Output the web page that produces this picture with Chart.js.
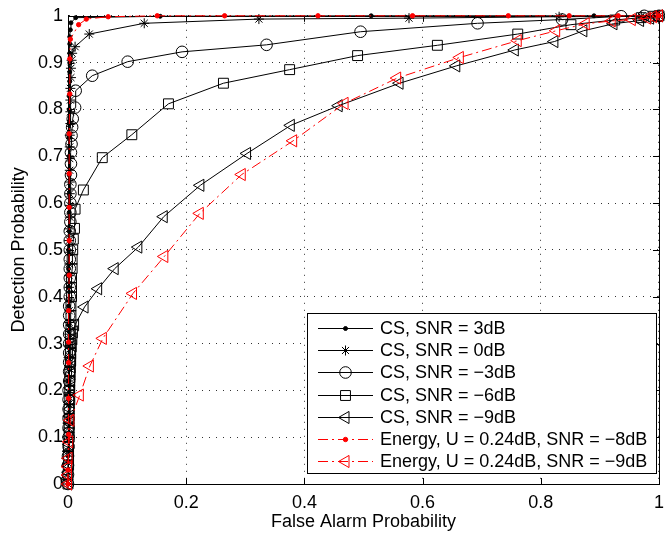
<!DOCTYPE html>
<html><head><meta charset="utf-8">
<script src="https://cdn.jsdelivr.net/npm/chart.js@4/dist/chart.umd.min.js"></script>
<style>
html,body{margin:0;padding:0;overflow:hidden;background:#fff;width:665px;height:536px}
#wrap{position:absolute;left:0;top:0;width:672px;height:536px}
canvas{display:block}
</style>
</head><body><div id="wrap"><canvas id="c" width="672" height="536"></canvas></div>
<script>
// ---- data ----
const xTicks = [0, 0.2, 0.4, 0.6, 0.8, 1];
const yTicks = [0, 0.1, 0.2, 0.3, 0.4, 0.5, 0.6, 0.7, 0.8, 0.9, 1];
const seriesLabels = [
  'CS, SNR = 3dB', 'CS, SNR = 0dB', 'CS, SNR = \u22123dB', 'CS, SNR = \u22126dB',
  'CS, SNR = \u22129dB', 'Energy, U = 0.24dB, SNR = \u22128dB', 'Energy, U = 0.24dB, SNR = \u22129dB'
];
const xLabel = 'False Alarm Probability';
const yLabel = 'Detection Probability';

// [false alarm, detection]
const cs3dB = [[0,0],[0,0.03],[0,0.06],[0,0.1],[0,0.14],[0.001,0.18],[0.001,0.22],[0.001,0.26],[0.001,0.3],[0.001,0.34],[0.001,0.38],[0.001,0.42],[0.001,0.46],[0.001,0.5],[0.002,0.54],[0.002,0.58],[0.002,0.62],[0.002,0.66],[0.002,0.7],[0.002,0.74],[0.002,0.77],[0.002,0.8],[0.002,0.83],[0.003,0.86],[0.003,0.88],[0.003,0.9],[0.003,0.92],[0.003,0.94],[0.003,0.955],[0.004,0.97],[0.005,0.985],[0.013,0.996],[0.156,0.999],[0.513,1],[0.89,1],[1,1]];
const cs0dB = [[0,0],[0,0.02],[0,0.045],[0,0.07],[0.001,0.095],[0.001,0.12],[0.001,0.145],[0.001,0.17],[0.001,0.195],[0.001,0.22],[0.001,0.245],[0.001,0.27],[0.001,0.295],[0.002,0.32],[0.002,0.345],[0.002,0.37],[0.002,0.395],[0.002,0.42],[0.002,0.445],[0.002,0.47],[0.002,0.495],[0.002,0.52],[0.002,0.545],[0.003,0.57],[0.003,0.595],[0.003,0.62],[0.003,0.645],[0.003,0.67],[0.003,0.695],[0.003,0.72],[0.003,0.745],[0.004,0.77],[0.004,0.795],[0.004,0.82],[0.004,0.845],[0.005,0.868],[0.005,0.888],[0.006,0.905],[0.007,0.92],[0.012,0.934],[0.036,0.961],[0.129,0.984],[0.323,0.993],[0.577,0.995],[0.831,0.998],[0.97,0.999],[1,1]];
const csM3dB = [[0,0],[0,0.02],[0,0.04],[0,0.06],[0.001,0.08],[0.001,0.1],[0.001,0.12],[0.001,0.14],[0.001,0.16],[0.001,0.18],[0.001,0.2],[0.002,0.22],[0.002,0.24],[0.002,0.26],[0.002,0.28],[0.002,0.3],[0.002,0.32],[0.002,0.34],[0.002,0.36],[0.002,0.38],[0.003,0.4],[0.003,0.42],[0.003,0.44],[0.003,0.46],[0.003,0.48],[0.003,0.5],[0.003,0.52],[0.003,0.54],[0.004,0.56],[0.004,0.58],[0.004,0.6],[0.004,0.62],[0.004,0.64],[0.005,0.66],[0.005,0.684],[0.005,0.708],[0.006,0.726],[0.006,0.744],[0.007,0.762],[0.008,0.78],[0.012,0.804],[0.013,0.84],[0.041,0.872],[0.101,0.902],[0.193,0.923],[0.336,0.938],[0.495,0.966],[0.693,0.984],[0.836,0.992],[0.936,0.999],[0.975,1],[1,1]];
const csM6dB = [[0,0],[0,0.02],[0.001,0.04],[0.001,0.06],[0.001,0.08],[0.002,0.1],[0.002,0.12],[0.002,0.14],[0.002,0.16],[0.003,0.18],[0.003,0.2],[0.003,0.22],[0.003,0.24],[0.004,0.26],[0.004,0.28],[0.004,0.3],[0.004,0.32],[0.005,0.34],[0.005,0.36],[0.005,0.38],[0.006,0.4],[0.006,0.42],[0.006,0.44],[0.007,0.46],[0.007,0.48],[0.008,0.5],[0.009,0.523],[0.011,0.546],[0.012,0.587],[0.026,0.628],[0.058,0.697],[0.108,0.746],[0.17,0.812],[0.263,0.856],[0.375,0.885],[0.49,0.915],[0.625,0.937],[0.761,0.961],[0.851,0.981],[0.925,0.991],[0.97,0.996],[0.99,0.999],[1,1]];
const csM9dB = [[0,0],[0,0.012],[0.001,0.025],[0.001,0.04],[0.001,0.055],[0.002,0.07],[0.002,0.085],[0.002,0.1],[0.003,0.115],[0.003,0.13],[0.003,0.145],[0.004,0.16],[0.004,0.175],[0.004,0.19],[0.005,0.205],[0.005,0.22],[0.006,0.235],[0.006,0.25],[0.007,0.265],[0.007,0.28],[0.008,0.295],[0.009,0.31],[0.01,0.325],[0.012,0.34],[0.028,0.378],[0.051,0.417],[0.079,0.46],[0.119,0.506],[0.162,0.571],[0.224,0.638],[0.303,0.706],[0.377,0.766],[0.458,0.808],[0.561,0.856],[0.657,0.893],[0.756,0.927],[0.823,0.945],[0.872,0.968],[0.923,0.983],[0.968,0.99],[0.985,0.995],[0.995,0.998],[1,1]];
const enM8dB = [[0,0],[0,0.03],[0.001,0.106],[0.001,0.183],[0.001,0.259],[0.001,0.303],[0.001,0.37],[0.002,0.446],[0.002,0.52],[0.002,0.591],[0.002,0.663],[0.002,0.748],[0.003,0.833],[0.003,0.908],[0.004,0.95],[0.018,0.981],[0.031,0.993],[0.068,0.998],[0.151,1],[0.265,1],[0.423,1],[0.583,1],[0.745,1],[0.848,1],[0.931,1],[1,1]];
const enM9dB = [[0,0],[0,0.019],[0,0.037],[0.001,0.055],[0.002,0.09],[0.004,0.136],[0.02,0.19],[0.037,0.252],[0.059,0.311],[0.11,0.407],[0.163,0.486],[0.223,0.578],[0.294,0.661],[0.381,0.733],[0.468,0.813],[0.557,0.867],[0.663,0.911],[0.761,0.947],[0.826,0.968],[0.876,0.983],[0.92,0.989],[0.954,0.992],[0.98,0.995],[0.99,0.998],[1,1]];

const seriesData = [cs3dB, cs0dB, csM3dB, csM6dB, csM9dB, enM8dB, enM9dB];

// ---- styles ----
const FONT = 'Liberation Sans, Arial, Helvetica, sans-serif';
const dashDot = [10, 4, 2, 4];
const styles = [
  {color:'#000', dash:[], point:'circle', r:2, fill:'#000', rot:0},
  {color:'#000', dash:[], point:'star', r:5, fill:'rgba(0,0,0,0)', rot:0},
  {color:'#000', dash:[], point:'circle', r:5.8, fill:'rgba(0,0,0,0)', rot:0},
  {color:'#000', dash:[], point:'rect', r:7, fill:'rgba(0,0,0,0)', rot:0},
  {color:'#000', dash:[], point:'triangle', r:7, fill:'rgba(0,0,0,0)', rot:-90},
  {color:'#ff0000', dash:dashDot, point:'circle', r:2.2, fill:'#ff0000', rot:0},
  {color:'#ff0000', dash:dashDot, point:'triangle', r:7, fill:'rgba(0,0,0,0)', rot:-90}
];

const datasets = seriesData.map((d, i) => ({
  label: seriesLabels[i],
  data: d.map(p => ({x: p[0], y: p[1]})),
  showLine: true,
  borderColor: styles[i].color,
  borderWidth: 1,
  borderDash: styles[i].dash,
  pointStyle: styles[i].point,
  pointRadius: styles[i].r,
  pointRotation: styles[i].rot,
  pointBackgroundColor: styles[i].fill,
  pointBorderColor: styles[i].color,
  pointBorderWidth: 1,
  fill: false,
  tension: 0,
  clip: false,
  order: seriesData.length - i
}));

const boxPlugin = {
  id: 'box',
  beforeDatasetsDraw(chart) {
    const {ctx, chartArea: a, scales: {x, y}} = chart;
    ctx.save();
    ctx.strokeStyle = '#000'; ctx.lineWidth = 1; ctx.setLineDash([]);
    ctx.beginPath();
    xTicks.forEach(v => { const p = Math.round(x.getPixelForValue(v)) + 0.5;
      ctx.moveTo(p, a.bottom); ctx.lineTo(p, a.bottom - 6); ctx.moveTo(p, a.top); ctx.lineTo(p, a.top + 6); });
    yTicks.forEach(v => { const p = Math.round(y.getPixelForValue(v)) + 0.5;
      ctx.moveTo(a.left, p); ctx.lineTo(a.left + 6, p); ctx.moveTo(a.right, p); ctx.lineTo(a.right - 6, p); });
    ctx.stroke();
    ctx.strokeRect(Math.round(a.left) + 0.5, Math.round(a.top) + 0.5, Math.round(a.right - a.left), Math.round(a.bottom - a.top));
    ctx.restore();
  }
};

function drawMarker(ctx, st, cx, cy) {
  if (Chart.helpers && Chart.helpers.drawPoint) {
    ctx.fillStyle = st.fill; ctx.strokeStyle = st.color; ctx.lineWidth = 1; ctx.setLineDash([]);
    Chart.helpers.drawPoint(ctx, {pointStyle: st.point, rotation: st.rot, radius: st.r, borderWidth: 1}, cx, cy);
  }
}

const legendPlugin = {
  id: 'boxLegend',
  afterDraw(chart) {
    const ctx = chart.ctx;
    ctx.save();
    const L = 307.5, T = 313.5, W = 349, H = 160;
    ctx.fillStyle = '#fff'; ctx.fillRect(L, T, W, H);
    ctx.strokeStyle = '#000'; ctx.lineWidth = 1; ctx.setLineDash([]); ctx.strokeRect(L, T, W, H);
    styles.forEach((st, i) => {
      const yy = Math.round(328 + i * 22.2) + 0.5;
      ctx.strokeStyle = st.color; ctx.lineWidth = 1; ctx.setLineDash(st.dash);
      ctx.beginPath(); ctx.moveTo(318, yy); ctx.lineTo(373, yy); ctx.stroke();
      drawMarker(ctx, st, 345.5, yy);
      ctx.setLineDash([]);
      ctx.fillStyle = '#000'; ctx.font = '18px ' + FONT; ctx.textBaseline = 'middle'; ctx.textAlign = 'left';
      ctx.fillText(seriesLabels[i], 380, yy + 1);
    });
    ctx.restore();
  }
};

new Chart(document.getElementById('c'), {
  type: 'scatter',
  data: {datasets},
  options: {
    responsive: false,
    animation: false,
    events: [],
    layout: {padding: {top: 15, right: 8, left: 0, bottom: 0}},
    plugins: {legend: {display: false}, tooltip: {enabled: false}},
    scales: {
      x: {
        type: 'linear', min: 0, max: 1,
        afterBuildTicks: s => { s.ticks = xTicks.map(v => ({value: v})); },
        afterFit: s => { s.height = 52; },
        grid: {color: '#333', lineWidth: 1, drawTicks: false},
        border: {display: true, color: '#000', width: 1, dash: [1, 6]},
        ticks: {color: '#000', padding: 8, font: {family: FONT, size: 18}, maxRotation: 0, autoSkip: false,
          callback: v => String(v)},
        title: {display: true, text: xLabel, color: '#000', font: {family: FONT, size: 18}, padding: {top: 0, bottom: 3}}
      },
      y: {
        type: 'linear', min: 0, max: 1,
        afterBuildTicks: s => { s.ticks = yTicks.map(v => ({value: v})); },
        afterFit: s => { s.width = 68; },
        grid: {color: '#333', lineWidth: 1, drawTicks: false},
        border: {display: true, color: '#000', width: 1, dash: [1, 6]},
        ticks: {color: '#000', padding: 5, font: {family: FONT, size: 18}, autoSkip: false,
          callback: v => String(v)},
        title: {display: true, text: yLabel, color: '#000', font: {family: FONT, size: 18}, padding: {top: 8, bottom: 0}}
      }
    }
  },
  plugins: [boxPlugin, legendPlugin]
});
</script>
</body></html>
